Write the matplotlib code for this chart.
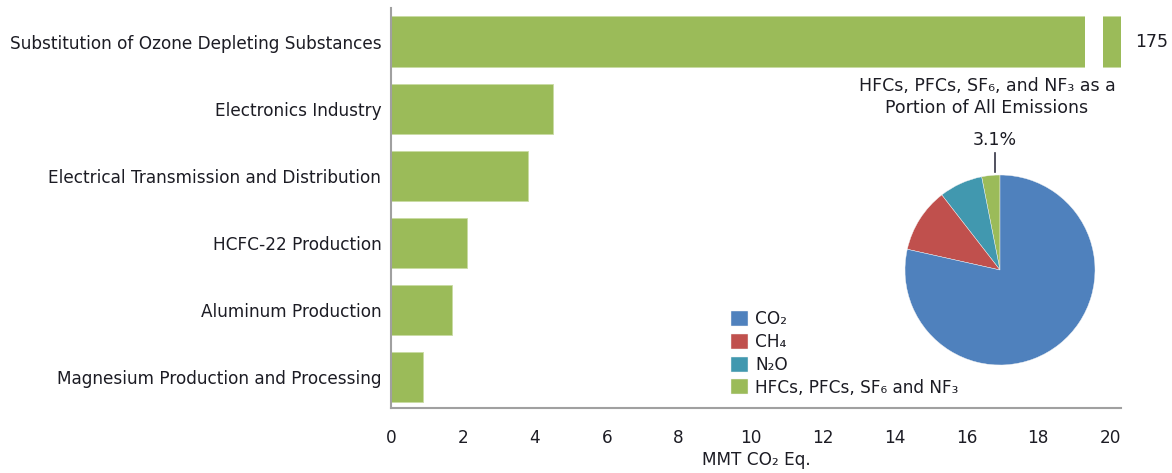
import matplotlib
matplotlib.use('Agg')
import matplotlib.pyplot as plt
from matplotlib.patches import Rectangle

# Sources of fluorinated gas emissions (MMT CO2 Eq.)
sources = [
    "Substitution of Ozone Depleting Substances",
    "Electronics Industry",
    "Electrical Transmission and Distribution",
    "HCFC-22 Production",
    "Aluminum Production",
    "Magnesium Production and Processing",
]
emissions = [175, 4.5, 3.8, 2.1, 1.7, 0.9]
xticks = [0, 2, 4, 6, 8, 10, 12, 14, 16, 18, 20]

# Share of all greenhouse gas emissions (%)
gases = ["HFCs, PFCs, SF\u2086 and NF\u2083", "N\u2082O", "CH\u2084", "CO\u2082"]
shares = [3.1, 7.4, 11.0, 78.5]

green = "#9BBB59"
gas_colors = ["#9BBB59", "#4198AF", "#C0504D", "#4F81BD"]
text_color = "#1c1c24"
spine_color = "#a0a0a0"

plt.rcParams['font.family'] = ['DejaVu Sans']

fig = plt.figure(figsize=(11.72, 4.73), dpi=100)
ax = fig.add_axes([391 / 1172, 65 / 473, 730 / 1172, 400 / 473])

ypos = list(range(len(sources)))
ax.barh(ypos, emissions, height=0.75, color=green, edgecolor="#c9dba3", linewidth=0.6)
ax.set_xlim(0, 20.3)
ax.set_ylim(5.46, -0.5)

# axis break on the first bar
ax.add_patch(Rectangle((19.3, -0.45), 0.5, 0.9, facecolor="white", edgecolor="none", zorder=3))
ax.text(1.02, 0, "175", transform=ax.get_yaxis_transform(), va="center", ha="left",
        fontsize=12.5, color=text_color)

ax.set_yticks(ypos)
ax.set_yticklabels(sources, fontsize=12.2, color=text_color)
ax.set_xticks(xticks)
ax.set_xticklabels([str(t) for t in xticks], fontsize=12.2, color=text_color)
ax.tick_params(axis="y", length=0, pad=7)
ax.tick_params(axis="x", length=0, pad=15)
ax.set_xlabel("MMT CO\u2082 Eq.", fontsize=12.2, color=text_color, labelpad=3)
for side in ["top", "right"]:
    ax.spines[side].set_visible(False)
for side in ["left", "bottom"]:
    ax.spines[side].set_color(spine_color)
    ax.spines[side].set_linewidth(1.5)

# inset pie
pax = fig.add_axes([905 / 1172, 108 / 473, 190 / 1172, 190 / 473])
wedges, _ = pax.pie(shares, colors=gas_colors, startangle=90, counterclock=True,
                    wedgeprops=dict(edgecolor="#f4f4f4", linewidth=0.3))
pax.set_xlim(-1, 1)
pax.set_ylim(-1, 1)
pax.set_aspect("equal")
pax.plot([-0.05, -0.05], [1.03, 1.23], color="#333344", linewidth=1.2, clip_on=False)
pax.text(-0.05, 1.27, "%.1f%%" % shares[0], ha="center", va="bottom", fontsize=12.5,
         color=text_color)

fig.text(987 / 1172, 1 - 97 / 473, "HFCs, PFCs, SF\u2086, and NF\u2083 as a\nPortion of All Emissions",
         ha="center", va="center", fontsize=12.5, color=text_color, linespacing=1.25)

order = [3, 2, 1, 0]
fig.legend([wedges[i] for i in order], [gases[i] for i in order],
           loc="upper left", bbox_to_anchor=(723 / 1172, 1 - 302 / 473),
           frameon=False, fontsize=12.2, handlelength=1.0, handleheight=1.0,
           handletextpad=0.4, labelspacing=0.28, labelcolor=text_color,
           borderpad=0)

fig.savefig("out.png", dpi=100)
